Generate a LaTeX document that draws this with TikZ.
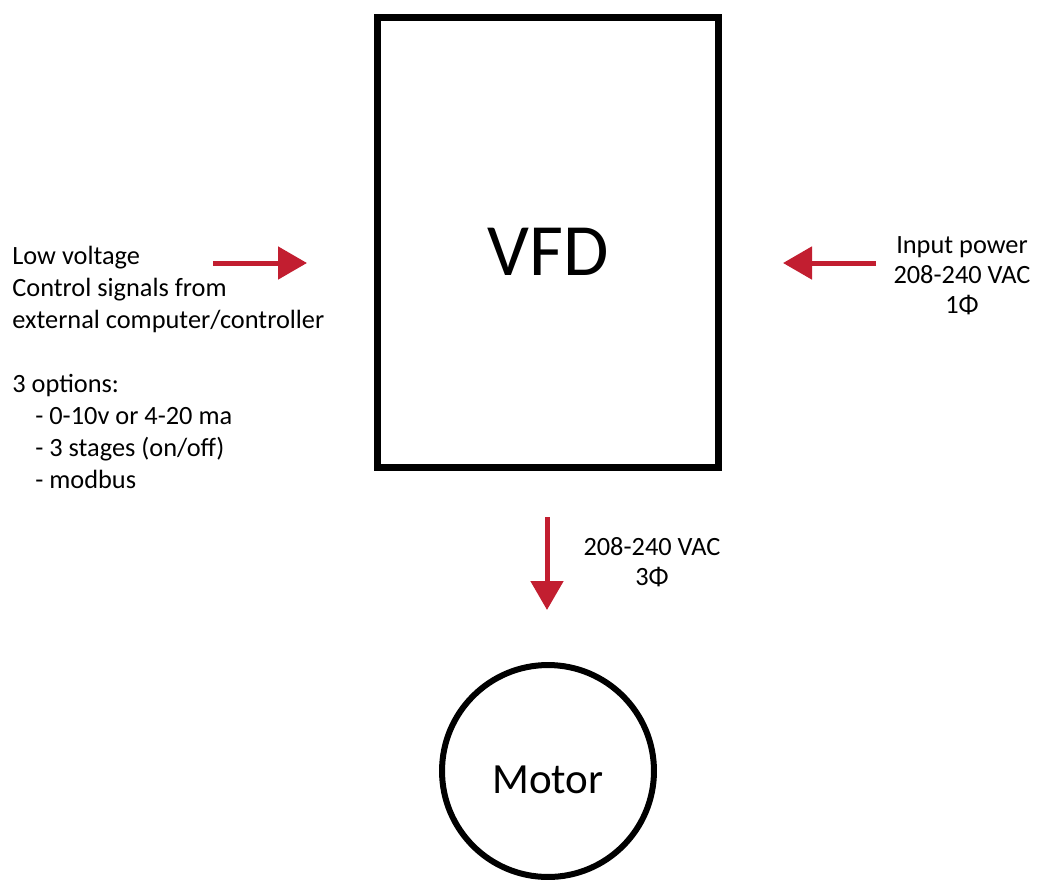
\documentclass[tikz,border=0pt]{standalone}
\usepackage{fontspec}
\setmainfont{Carlito}
\usepackage{tikz}
\usetikzlibrary{arrows.meta,positioning}
\definecolor{sigred}{RGB}{194,30,48}
\tikzset{
  sigarrow/.style={sigred, line width=0.1cm, -{Triangle[length=0.58cm, width=0.64cm]}},
  notetext/.style={font=\fontsize{15}{18.2}\selectfont, inner sep=0pt}
}

\begin{document}
\begin{tikzpicture}[x=0.02cm, y=-0.02cm]
    \useasboundingbox (0,0) rectangle (1038,880);
    % VFD box
    \node[draw, line width=0.14cm, minimum width=6.82cm, minimum height=9.02cm, inner sep=0pt] (vfd) at (548,242.5) {};
    \node[font=\fontsize{42}{48}\selectfont, anchor=base, inner sep=0pt] (vfdname) at (548,275) {VFD};
    % motor
    \node[draw, circle, line width=0.12cm, minimum size=4.24cm, inner sep=0pt] (motor) at (548,771) {};
    \node[font=\fontsize{24.5}{28}\selectfont, anchor=base, inner sep=0pt] (motorname) at (548,793) {Motor};
    % control signals (left), base = last line
    \node[notetext, anchor=base west, align=left] (ctrltext) at (12,488)
      {Low voltage\\Control signals from\\external computer/controller\\[18.2pt]
       3 options:\\\hspace*{0.46cm}- 0-10v or 4-20 ma\\\hspace*{0.46cm}- 3 stages (on/off)\\\hspace*{0.46cm}- modbus};
    \coordinate (ctrlfrom) at (213,263);
    \coordinate (ctrlto) at (307,263);
    \draw[sigarrow] (ctrlfrom) -- (ctrlto);
    % input power (right)
    \node[notetext, anchor=base, align=center, font=\fontsize{15}{17}\selectfont] (powertext) at (962,313)
      {Input power\\208-240 VAC\\1Φ};
    \coordinate (powerfrom) at (876,263);
    \coordinate (powerto) at (783,263);
    \draw[sigarrow] (powerfrom) -- (powerto);
    % output to motor
    \node[notetext, anchor=base, align=center, font=\fontsize{15}{17}\selectfont] (outtext) at (652,585)
      {208-240 VAC\\3Φ};
    \coordinate (outfrom) at (547,517);
    \coordinate (outto) at (547,610);
    \draw[sigarrow] (outfrom) -- (outto);
\end{tikzpicture}
\end{document}
